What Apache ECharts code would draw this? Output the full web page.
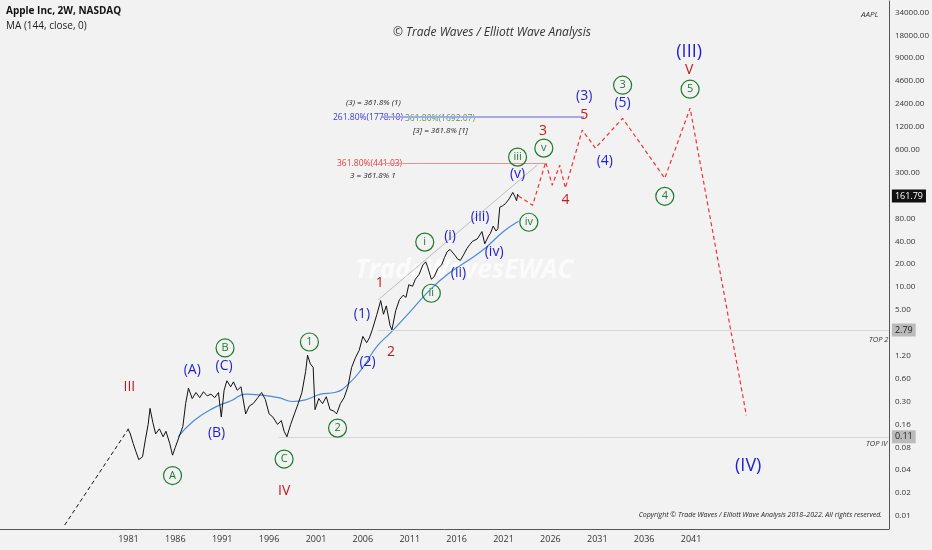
<!DOCTYPE html>
<html><head><meta charset="utf-8">
<script src="https://cdn.jsdelivr.net/npm/echarts@6/dist/echarts.min.js"></script>
<style>html,body{margin:0;padding:0;background:#f2f2f2}#c{width:932px;height:550px}</style>
</head><body><div id="c"></div>
<script>
// ---------- data ----------
const priceYears = [1980.95,1981.2,1981.5,1981.8,1982.1,1982.5,1982.8,1983.1,1983.3,1983.6,1983.9,1984.3,1984.7,1985.0,1985.4,1985.7,1986.0,1986.4,1986.8,1987.1,1987.4,1987.8,1988.2,1988.6,1989.0,1989.4,1989.8,1990.2,1990.6,1990.9,1991.2,1991.5,1991.9,1992.2,1992.6,1993.0,1993.5,1993.9,1994.3,1994.8,1995.2,1995.6,1996.0,1996.4,1996.9,1997.3,1997.6,1997.9,1998.3,1998.7,1999.1,1999.5,1999.9,2000.1,2000.4,2000.7,2000.9,2001.3,2001.7,2002.1,2002.5,2002.9,2003.2,2003.6,2004.0,2004.4,2004.8,2005.2,2005.6,2006.0,2006.4,2006.7,2007.0,2007.5,2007.9,2008.2,2008.5,2008.9,2009.1,2009.5,2009.9,2010.3,2010.6,2010.9,2011.3,2011.6,2012.0,2012.4,2012.7,2012.9,2013.3,2013.6,2014.0,2014.4,2014.7,2015.0,2015.3,2015.8,2016.1,2016.4,2016.8,2017.1,2017.4,2017.7,2017.9,2018.2,2018.4,2018.7,2019.0,2019.4,2019.6,2019.9,2020.2,2020.4,2020.6,2020.9,2021.2,2021.4,2021.6,2021.8,2021.99,2022.2,2022.4,2022.5,2022.6];
const priceValues = [0.14,0.12,0.09,0.07,0.055,0.06,0.1,0.16,0.26,0.17,0.12,0.14,0.11,0.13,0.09,0.063,0.08,0.11,0.15,0.3,0.48,0.35,0.42,0.36,0.43,0.38,0.4,0.36,0.42,0.2,0.45,0.6,0.5,0.58,0.45,0.5,0.22,0.28,0.3,0.36,0.42,0.34,0.22,0.2,0.16,0.18,0.13,0.11,0.16,0.22,0.3,0.42,0.8,1.3,1.0,0.9,0.25,0.35,0.3,0.37,0.25,0.24,0.22,0.3,0.36,0.5,0.9,1.2,1.5,2.3,1.9,2.2,2.8,4.5,6.8,4.5,5.8,3.2,2.8,5,7,8,7.5,11,10.5,13,15,20,22,19,13,14,18,20,25,30,32,27,24,23,28,33,37,41,42,44,46,55,38,48,52,65,56,60,115,120,128,124,148,150,180,160,140,170,161.79];
const maYears = [1986.3,1988,1990,1992,1993.5,1995,1997,1998.5,2000,2001.5,2003,2004.5,2006,2007.5,2009,2011,2013,2015,2017,2019,2021,2022.6];
const maValues = [0.11,0.18,0.26,0.33,0.4,0.39,0.36,0.32,0.34,0.4,0.42,0.55,0.9,1.7,2.6,4.8,9,15,22,33,55,75];
const preYears = [1974.2,1981.0];
const preValues = [0.0076,0.14];
const projYears = [2022.6,2024.1,2025.5,2026.2,2027.0,2027.6,2029.4,2030.8,2033.7,2038.2,2040.9,2046.9];
const projValues = [161.79,122,451,224,412,205,1190,688,1700,277,2310,0.21];
const channelYears = [2007.6,2024.6];
const channelValues = [6.9,412];
const xTickYears = [1981,1986,1991,1996,2001,2006,2011,2016,2021,2026,2031,2036,2041];
const yTickLabels = ['0.01','0.02','0.04','0.08','0.16','0.30','0.60','1.20','','5.00','10.00','20.00','40.00','80.00','','300.00','600.00','1200.00','2400.00','4600.00','9000.00','18000.00','34000.00','64000.00'];
// wave labels: [year, price, text, colour key, circled]
const waveLabels = [
 [1981.1,0.50,'III','r',0],[1985.7,0.034,'A','g',1],[1987.8,0.83,'(A)','b',0],[1990.4,0.123,'(B)','b',0],
 [1991.3,1.62,'B','g',1],[1991.2,0.94,'(C)','b',0],[1997.6,0.056,'C','g',1],[1997.6,0.021,'IV','r',0],
 [2000.3,1.94,'1','g',1],[2003.3,0.143,'2','g',1],[2005.9,4.5,'(1)','b',0],[2006.5,1.06,'(2)','b',0],
 [2007.8,11.5,'1','r',0],[2009.0,1.43,'2','r',0],[2012.6,40,'i','g',1],[2015.3,48,'(i)','b',0],
 [2013.3,8.5,'ii','g',1],[2016.2,15.6,'(ii)','b',0],[2018.5,85,'(iii)','b',0],[2020.0,29.5,'(iv)','b',0],
 [2022.5,525,'iii','g',1],[2022.5,312,'(v)','b',0],[2023.7,73,'iv','g',1],[2025.3,688,'v','g',1],
 [2025.2,1150,'3','r',0],[2027.6,143,'4','r',0],[2029.6,3310,'(3)','b',0],[2029.6,1860,'5','r',0],
 [2031.8,463,'(4)','b',0],[2033.7,4630,'3','g',1],[2033.7,2670,'(5)','b',0],[2038.2,160,'4','g',1],
 [2040.8,12900,'(III)','b',0],[2040.8,7300,'V','r',0],[2040.9,4100,'5','g',1],[2047.1,0.045,'(IV)','b',0]
];
const fibRed = 441.03, fibBlue = 1778.10, top2 = 2.79, topIV = 0.11, lastPrice = 161.79;

// ---------- helpers ----------
const L = p => Math.log2(p / 0.01);
const pts = (xs, ys) => xs.map((x, i) => [x, L(ys[i])]);
const C = {r:'#c41a1a', b:'#1f1fd0', g:'#1d7a2c'};
const F = 'Open Sans, sans-serif';
const XMAX = 2062.1;

const labelSeries = {
  type:'scatter', z:10, silent:true,
  data: waveLabels.map(w => {
    const big = w[2] === '(III)' || w[2] === '(IV)';
    return {
      value:[w[0], L(w[1])],
      symbol:'circle',
      symbolSize: w[4] ? 18 : 2,
      itemStyle:{opacity:1, color:'rgba(0,0,0,0)', borderColor: w[4] ? C[w[3]] : 'rgba(0,0,0,0)', borderWidth: w[4] ? 1.2 : 0},
      label:{show:true, position:'inside', formatter:w[2], color:C[w[3]], opacity:1,
        fontFamily:F, fontSize: big ? 18 : (w[4] ? 11 : 14)}
    };
  })
};

const mk = (x0, x1, v, ls, tag) => {
  const a = {coord:[x0, L(v)], lineStyle:ls};
  a.label = tag ? {show:true, position:'end', formatter:tag[0], backgroundColor:tag[1], color:tag[2],
    fontSize:9, fontFamily:F, padding:[2,3], distance:3} : {show:false};
  return [a, {coord:[x1, L(v)], lineStyle:ls}];
};

const chart = echarts.init(document.getElementById('c'));
chart.setOption({
  backgroundColor:'#f2f2f2',
  animation:false,
  grid:{left:0, right:39, top:1, bottom:21},
  xAxis:{type:'value', min:1967.3, max:XMAX,
    axisLine:{show:true, onZero:false, lineStyle:{color:'#555'}}, axisTick:{show:false}, splitLine:{show:false},
    axisLabel:{customValues:xTickYears, formatter:v => String(v), color:'#333', fontSize:9, fontFamily:F, margin:6}},
  yAxis:{type:'value', position:'right', min:-0.57, max:22.5,
    axisLine:{show:true, lineStyle:{color:'#555'}}, axisTick:{show:false}, splitLine:{show:false},
    axisLabel:{customValues:yTickLabels.map((_, i) => i), formatter:v => yTickLabels[Math.round(v)] || '',
      color:'#333', fontSize:8, fontFamily:F, margin:6}},
  graphic:[
    {type:'text', left:6, top:6, style:{text:'Apple Inc, 2W, NASDAQ', font:'bold 10px '+F, fill:'#111'}},
    {type:'text', left:6, top:21, style:{text:'MA (144, close, 0)', font:'10px '+F, fill:'#222'}},
    {type:'text', left:393, top:27, style:{text:'© Trade Waves / Elliott Wave Analysis', font:'italic 12px '+F, fill:'#333'}},
    {type:'text', left:861, top:11, style:{text:'AAPL', font:'italic 8px '+F, fill:'#333'}},
    {type:'text', left:355, top:258, style:{text:'TradeWavesEWAC', font:'italic bold 26px '+F, fill:'rgba(255,255,255,0.7)'}},
    {type:'text', left:346, top:99, style:{text:'(3) = 361.8% (1)', font:'italic 8px '+F, fill:'#222'}},
    {type:'text', left:333, top:113, style:{text:'261.80%(1778.10)', font:'8.5px '+F, fill:'#3a3ad8'}},
    {type:'text', left:405, top:114, style:{text:'361.80%(1692.07)', font:'8.5px '+F, fill:'#4a9a4a'}},
    {type:'text', left:413, top:127, style:{text:'[3] = 361.8% [1]', font:'italic 8px '+F, fill:'#222'}},
    {type:'text', left:337, top:159, style:{text:'361.80%(441.03)', font:'8.5px '+F, fill:'#e04040'}},
    {type:'text', left:350, top:172, style:{text:'3 = 361.8% 1', font:'italic 8px '+F, fill:'#222'}},
    {type:'text', left:869, top:336, style:{text:'TOP 2', font:'italic 7.5px '+F, fill:'#333'}},
    {type:'text', left:866, top:440, style:{text:'TOP IV', font:'italic 7.5px '+F, fill:'#333'}},
    {type:'text', right:50, top:511, style:{text:'Copyright © Trade Waves / Elliott Wave Analysis 2018–2022. All rights reserved.', font:'italic 7px '+F, fill:'#222'}}
  ],
  series:[
    {type:'line', data:pts(preYears, preValues), symbol:'none', lineStyle:{color:'#111', width:1, type:[4,3]}},
    {type:'line', data:pts(channelYears, channelValues), symbol:'none', lineStyle:{color:'#999', width:0.6}},
    {type:'line', data:pts(maYears, maValues), symbol:'none', smooth:true, lineStyle:{color:'#4a8ad8', width:1.2}},
    {type:'line', data:pts(priceYears, priceValues), symbol:'none', lineStyle:{color:'#111', width:1},
      markLine:{silent:true, symbol:'none', data:[
        mk(2008, 2025.5, fibRed, {color:'#f09090', width:1, type:'solid'}),
        mk(2008, 2029.6, fibBlue, {color:'#a8a8e8', width:2, type:'solid'}),
        mk(2007.5, XMAX, top2, {color:'#cfcfcf', width:0.8, type:'solid'}, ['2.79','#bbb','#222']),
        mk(1997, XMAX, topIV, {color:'#cfcfcf', width:0.8, type:'solid'}, ['0.11','#bbb','#222']),
        mk(2022.6, XMAX, lastPrice, {color:'rgba(0,0,0,0)', width:0, type:'solid'}, ['161.79','#111','#fff'])
      ]}},
    {type:'line', data:pts(projYears, projValues), symbol:'none', lineStyle:{color:'#ee3333', width:1.2, type:[4,3]}},
    labelSeries
  ]
});
</script></body></html>
